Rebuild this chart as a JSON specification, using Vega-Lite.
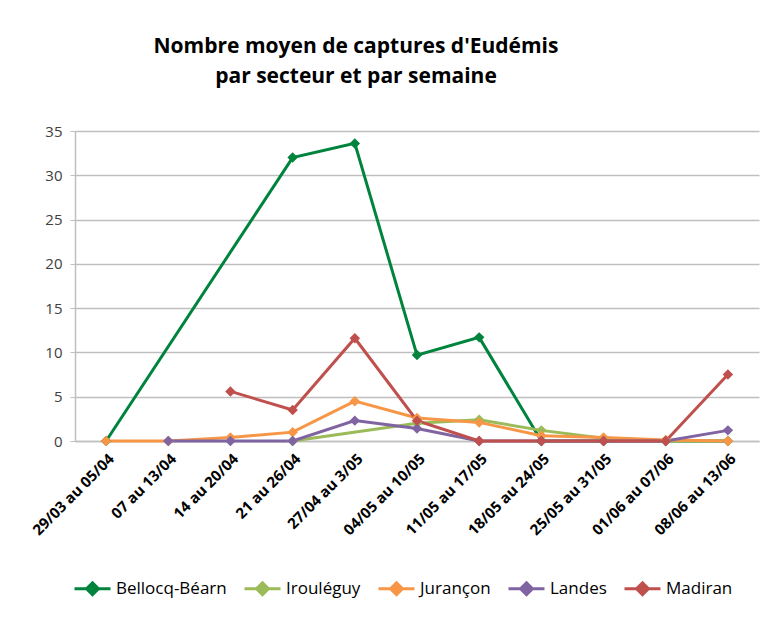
{
  "$schema": "https://vega.github.io/schema/vega-lite/v6.json",
  "width": 684,
  "height": 310,
  "autosize": {"type": "none"},
  "padding": {"left": 75, "top": 131, "right": 20, "bottom": 181},
  "background": "white",
  "title": {
    "text": ["Nombre moyen de captures d'Eudémis", "par secteur et par semaine"],
    "font": "Open Sans",
    "fontSize": 21,
    "fontWeight": "bold",
    "color": "#000000",
    "anchor": "middle",
    "dx": -61,
    "offset": 37,
    "lineHeight": 30
  },
  "config": {
    "view": {"stroke": null},
    "font": "Open Sans"
  },
  "data": {
    "values": [
      {"w": "29/03 au 05/04", "n": 1, "s": "Bellocq-Béarn", "v": 0},
      {"w": "21 au 26/04", "n": 4, "s": "Bellocq-Béarn", "v": 32},
      {"w": "27/04 au 3/05", "n": 5, "s": "Bellocq-Béarn", "v": 33.6},
      {"w": "04/05 au 10/05", "n": 6, "s": "Bellocq-Béarn", "v": 9.7},
      {"w": "11/05 au 17/05", "n": 7, "s": "Bellocq-Béarn", "v": 11.7},
      {"w": "18/05 au 24/05", "n": 8, "s": "Bellocq-Béarn", "v": 0},
      {"w": "25/05 au 31/05", "n": 9, "s": "Bellocq-Béarn", "v": 0},
      {"w": "01/06 au 07/06", "n": 10, "s": "Bellocq-Béarn", "v": 0},
      {"w": "08/06 au 13/06", "n": 11, "s": "Bellocq-Béarn", "v": 0},

      {"w": "21 au 26/04", "n": 4, "s": "Irouléguy", "v": 0},
      {"w": "04/05 au 10/05", "n": 6, "s": "Irouléguy", "v": 2.0},
      {"w": "11/05 au 17/05", "n": 7, "s": "Irouléguy", "v": 2.4},
      {"w": "18/05 au 24/05", "n": 8, "s": "Irouléguy", "v": 1.2},
      {"w": "25/05 au 31/05", "n": 9, "s": "Irouléguy", "v": 0.3},
      {"w": "01/06 au 07/06", "n": 10, "s": "Irouléguy", "v": 0},
      {"w": "08/06 au 13/06", "n": 11, "s": "Irouléguy", "v": 0},

      {"w": "29/03 au 05/04", "n": 1, "s": "Jurançon", "v": 0},
      {"w": "07 au 13/04", "n": 2, "s": "Jurançon", "v": 0},
      {"w": "14 au 20/04", "n": 3, "s": "Jurançon", "v": 0.4},
      {"w": "21 au 26/04", "n": 4, "s": "Jurançon", "v": 1.0},
      {"w": "27/04 au 3/05", "n": 5, "s": "Jurançon", "v": 4.5},
      {"w": "04/05 au 10/05", "n": 6, "s": "Jurançon", "v": 2.6},
      {"w": "11/05 au 17/05", "n": 7, "s": "Jurançon", "v": 2.1},
      {"w": "18/05 au 24/05", "n": 8, "s": "Jurançon", "v": 0.6},
      {"w": "25/05 au 31/05", "n": 9, "s": "Jurançon", "v": 0.4},
      {"w": "01/06 au 07/06", "n": 10, "s": "Jurançon", "v": 0.1},
      {"w": "08/06 au 13/06", "n": 11, "s": "Jurançon", "v": 0},

      {"w": "07 au 13/04", "n": 2, "s": "Landes", "v": 0},
      {"w": "14 au 20/04", "n": 3, "s": "Landes", "v": 0},
      {"w": "21 au 26/04", "n": 4, "s": "Landes", "v": 0},
      {"w": "27/04 au 3/05", "n": 5, "s": "Landes", "v": 2.3},
      {"w": "04/05 au 10/05", "n": 6, "s": "Landes", "v": 1.4},
      {"w": "11/05 au 17/05", "n": 7, "s": "Landes", "v": 0},
      {"w": "18/05 au 24/05", "n": 8, "s": "Landes", "v": 0},
      {"w": "25/05 au 31/05", "n": 9, "s": "Landes", "v": 0},
      {"w": "01/06 au 07/06", "n": 10, "s": "Landes", "v": 0},
      {"w": "08/06 au 13/06", "n": 11, "s": "Landes", "v": 1.2},

      {"w": "14 au 20/04", "n": 3, "s": "Madiran", "v": 5.6},
      {"w": "21 au 26/04", "n": 4, "s": "Madiran", "v": 3.5},
      {"w": "27/04 au 3/05", "n": 5, "s": "Madiran", "v": 11.6},
      {"w": "04/05 au 10/05", "n": 6, "s": "Madiran", "v": 2.3},
      {"w": "11/05 au 17/05", "n": 7, "s": "Madiran", "v": 0},
      {"w": "18/05 au 24/05", "n": 8, "s": "Madiran", "v": 0},
      {"w": "25/05 au 31/05", "n": 9, "s": "Madiran", "v": 0},
      {"w": "01/06 au 07/06", "n": 10, "s": "Madiran", "v": 0},
      {"w": "08/06 au 13/06", "n": 11, "s": "Madiran", "v": 7.5}
    ]
  },
  "encoding": {
    "x": {
      "field": "w",
      "type": "nominal",
      "sort": {"field": "n"},
      "scale": {
        "type": "point",
        "padding": 0.5,
        "domain": ["29/03 au 05/04", "07 au 13/04", "14 au 20/04", "21 au 26/04", "27/04 au 3/05", "04/05 au 10/05", "11/05 au 17/05", "18/05 au 24/05", "25/05 au 31/05", "01/06 au 07/06", "08/06 au 13/06"]
      },
      "axis": {
        "title": null,
        "labelAngle": -45,
        "labelFont": "Open Sans",
        "labelFontSize": 15,
        "labelFontWeight": "bold",
        "labelColor": "#000000",
        "labelPadding": 10,
        "ticks": false,
        "domainColor": "#BFBFBF",
        "domainWidth": 1.5,
        "grid": false
      }
    },
    "y": {
      "field": "v",
      "type": "quantitative",
      "scale": {"domain": [0, 35], "nice": false},
      "axis": {
        "title": null,
        "values": [0, 5, 10, 15, 20, 25, 30, 35],
        "labelFont": "Open Sans",
        "labelFontSize": 15,
        "labelColor": "#404040",
        "labelPadding": 8,
        "tickSize": 5,
        "tickColor": "#BFBFBF",
        "domainColor": "#BFBFBF",
        "domainWidth": 1.5,
        "gridColor": "#BFBFBF",
        "gridWidth": 1.5
      }
    },
    "color": {
      "field": "s",
      "type": "nominal",
      "scale": {
        "domain": ["Bellocq-Béarn", "Irouléguy", "Jurançon", "Landes", "Madiran"],
        "range": ["#00843D", "#9BBB59", "#F79646", "#8064A2", "#C0504D"]
      },
      "legend": {
        "title": null,
        "orient": "none",
        "direction": "horizontal",
        "legendX": -2,
        "legendY": 438,
        "symbolType": "M-1,0H1M0,-0.33L0.33,0L0,0.33L-0.33,0Z",
        "symbolSize": 1296,
        "symbolStrokeWidth": 3,
        "labelFont": "Open Sans",
        "labelFontSize": 17,
        "labelColor": "#000000",
        "labelOffset": 4,
        "columnPadding": 11
      }
    },
    "order": {"field": "n", "type": "quantitative"}
  },
  "layer": [
    {"mark": {"type": "line", "strokeWidth": 3}},
    {"mark": {"type": "point", "shape": "diamond", "filled": true, "size": 110, "opacity": 1}}
  ]
}
